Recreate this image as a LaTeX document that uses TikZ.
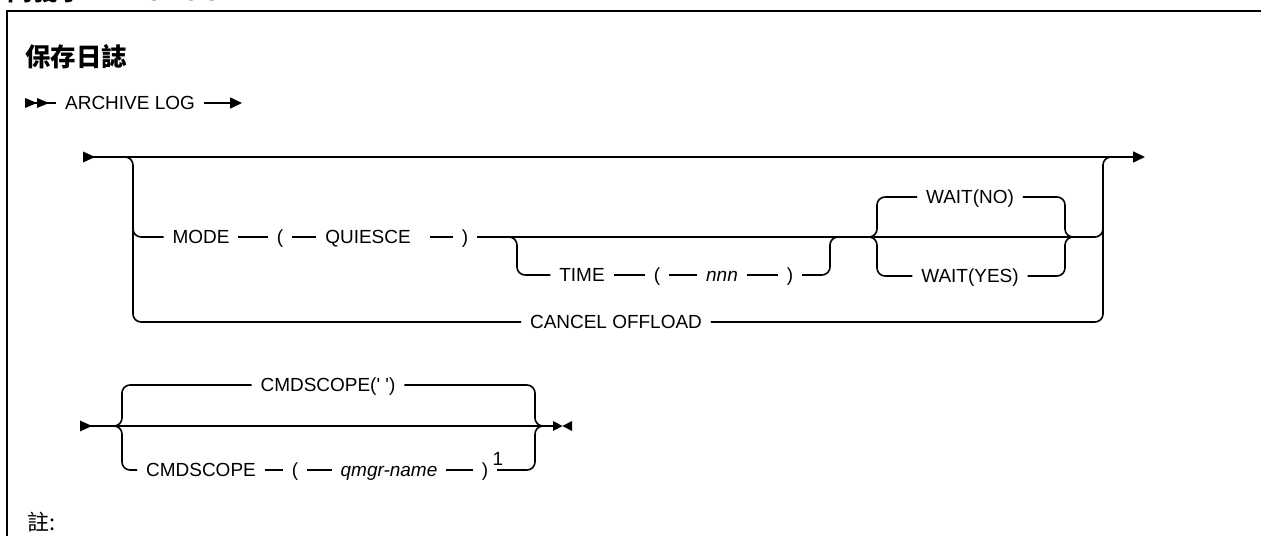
\documentclass[tikz,border=0pt]{standalone}
\usepackage{fontspec}
\setmainfont{Liberation Sans}
\newfontfamily\cjk{Noto Sans CJK TC}
\usetikzlibrary{arrows.meta}
\newcommand\railfont{\fontsize{10.8pt}{13pt}\selectfont}
\tikzset{
  rail/.style={line width=0.032cm, rounded corners=0.16cm},
  kw/.style={font=\railfont, inner sep=0pt, outer xsep=0.18cm, text height=0.27cm, text depth=0pt},
  var/.style={kw, font=\railfont\itshape},
  tip/.style={-{Triangle[length=0.24cm,width=0.22cm]}},
}
\begin{document}
\begin{tikzpicture}[x=0.02cm, y=-0.02cm]
  \useasboundingbox (0,0) rectangle (1261,536);
  \clip (0,0) rectangle (1261,536);
  % frame and headings
  \draw[line width=0.05cm] (7,545) -- (7,11) -- (1270,11);
  \node[font=\cjk\bfseries\fontsize{14.5pt}{17pt}\selectfont, anchor=base west, inner sep=0pt] (syn) at (7,1) {同義字：ARC LOG};
  \node[font=\cjk\bfseries\fontsize{14.5pt}{17pt}\selectfont, inner sep=0pt] (title) at (76,57) {保存日誌};
  \node[font=\cjk\fontsize{12.5pt}{15pt}\selectfont, inner sep=0pt] (note) at (42,522) {註:};

  % ARCHIVE LOG
  \node[kw] (archive) at (130,103) {ARCHIVE LOG};
  \coordinate (as) at (25,103);
  \coordinate (ae) at (242,103);
  \fill (as) ++(0,-5) -- ++(12,5) -- ++(-12,5) -- cycle;
  \fill (as) ++(12,-5) -- ++(12,5) -- ++(-12,5) -- cycle;
  \draw[rail] (as) -- (archive);
  \draw[rail, tip] (archive) -- (ae);

  % main line
  \coordinate (s1) at (83,157);
  \coordinate (e1) at (1145,157);
  \fill (s1) ++(0,-5.5) -- ++(12,5.5) -- ++(-12,5.5) -- cycle;
  \draw[rail, tip] (s1) -- (e1);

  \node[kw] (mode) at (201,237) {MODE};
  \node[kw] (lpa) at (280,237) {(};
  \node[kw] (quiesce) at (368,237) {QUIESCE};
  \node[kw] (rpa) at (465,237) {)};
  \node[kw] (time) at (582,275) {TIME};
  \node[kw] (lpb) at (657,275) {(};
  \node[var] (nnn) at (722,275) {nnn};
  \node[kw] (rpb) at (790,275) {)};
  \node[kw] (wno) at (970,197) {WAIT(NO)};
  \node[kw] (wyes) at (970,276) {WAIT(YES)};
  \node[kw] (cancel) at (616,322) {CANCEL OFFLOAD};

  % left and right brackets
  \coordinate (lb0) at (125,157);
  \coordinate (lb1) at (133,322);
  \coordinate (lb2) at (133,220);
  \draw[rail] (lb0) -| (lb1) -- (cancel);
  \draw[rail] (lb2) |- (mode);
  \coordinate (rb0) at (1111,157);
  \coordinate (rb1) at (1103,157);
  \coordinate (rb2) at (1103,220);
  \draw[rail] (cancel) -| (rb1) -- (rb0);

  \draw[rail] (mode) -- (lpa);
  \draw[rail] (lpa) -- (quiesce);
  \draw[rail] ([xshift=0.2cm]quiesce.east) -- (rpa);
  \draw[rail] (rpa) -| (rb2);

  % TIME branch
  \coordinate (tb0) at (509,237);
  \coordinate (tb1) at (517,275);
  \coordinate (tb2) at (830,237);
  \coordinate (tb3) at (838,237);
  \draw[rail] (tb0) -| (tb1) -- (time);
  \draw[rail] (time) -- (lpb);
  \draw[rail] (lpb) -- (nnn);
  \draw[rail] (nnn) -- (rpb);
  \draw[rail] (rpb) -| (tb2) -- (tb3);

  % WAIT choice
  \coordinate (wb0) at (869,237);
  \coordinate (wb1) at (877,217);
  \coordinate (wb2) at (877,256);
  \coordinate (wb3) at (1065,217);
  \coordinate (wb4) at (1065,256);
  \coordinate (wb5) at (1073,237);
  \draw[rail] (wb0) -| (wb1) |- (wno);
  \draw[rail] (wb0) -| (wb2) |- (wyes);
  \draw[rail] (wno) -| (wb3) |- (wb5);
  \draw[rail] (wyes) -| (wb4) |- (wb5);

  % CMDSCOPE
  \coordinate (s2) at (80,426);
  \coordinate (e2) at (553,426);
  \fill (s2) ++(0,-5.5) -- ++(12,5.5) -- ++(-12,5.5) -- cycle;
  \draw[rail] (s2) -- (e2);
  \fill (e2) ++(0,-5) -- ++(9.5,5) -- ++(-9.5,5) -- cycle;
  \fill (e2) ++(19,-5) -- ++(-9.5,5) -- ++(9.5,5) -- cycle;

  \node[kw] (cmdq) at (328,385) {CMDSCOPE(\textquotesingle\ \textquotesingle)};
  \node[kw] (cmd) at (201,470) {CMDSCOPE};
  \node[kw] (lpc) at (295,470) {(};
  \node[var] (qmgr) at (389,470) {qmgr-name};
  \node[kw] (rpc) at (485,470) {)};
  \node[kw, outer sep=0pt] (fn) at (498,459) {1};

  \coordinate (cb0) at (114,426);
  \coordinate (cb1) at (122,405);
  \coordinate (cb2) at (122,448);
  \coordinate (cb3) at (535,405);
  \coordinate (cb4) at (535,448);
  \coordinate (cb5) at (543,426);
  \draw[rail] (cb0) -| (cb1) |- (cmdq);
  \draw[rail] (cb0) -| (cb2) |- (cmd);
  \draw[rail] (cmd) -- (lpc);
  \draw[rail] (lpc) -- (qmgr);
  \draw[rail] (qmgr) -- (rpc);
  \draw[rail] (cmdq) -| (cb3) |- (cb5);
  \draw[rail] (rpc) -| (cb4) |- (cb5);
\end{tikzpicture}
\end{document}
